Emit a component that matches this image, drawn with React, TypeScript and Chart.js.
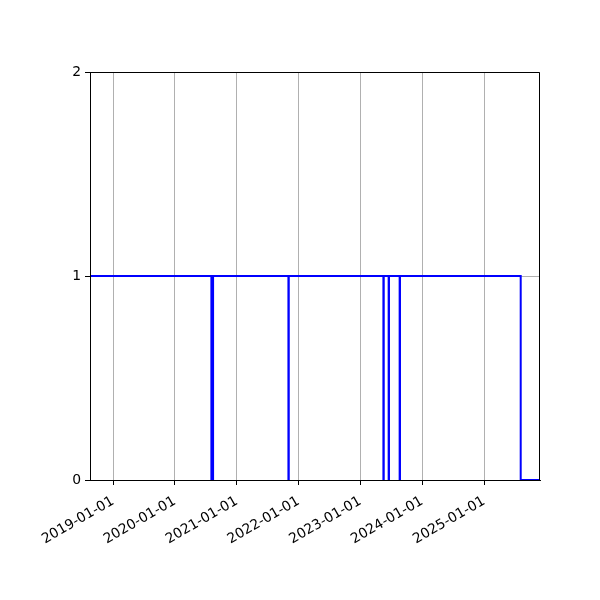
import React, { useEffect, useRef } from 'react';
import { Chart, registerables } from 'chart.js';

Chart.register(...registerables);

// step points: the value holds from each date until the next one
const stepDates = [
    '2018-08-18', '2020-08-04', '2020-08-14', '2021-11-02', '2021-11-04',
    '2023-05-17', '2023-05-19', '2023-06-17', '2023-06-19', '2023-08-21',
    '2023-08-23', '2025-08-05', '2025-11-27',
];
const stepValues = [1, 0, 1, 0, 1, 0, 1, 0, 1, 0, 1, 0, 0];

const xMin = '2018-08-18';
const xMax = '2025-11-27';
const tickYears = [2019, 2020, 2021, 2022, 2023, 2024, 2025];
const yTicks = [0, 1, 2];

const toMs = (d: string) => Date.parse(d + 'T00:00:00Z');
const fmtDate = (ms: number) => new Date(ms).toISOString().slice(0, 10);

// matplotlib-like box around the plot area
const frame = {
    id: 'frame',
    afterDatasetsDraw(chart: any) {
        const { ctx, chartArea } = chart;
        ctx.save();
        ctx.strokeStyle = '#000';
        ctx.lineWidth = 1;
        ctx.beginPath();
        ctx.moveTo(chartArea.left + 0.5, chartArea.bottom);
        ctx.lineTo(chartArea.left + 0.5, chartArea.top + 0.5);
        ctx.lineTo(chartArea.right - 0.5, chartArea.top + 0.5);
        ctx.lineTo(chartArea.right - 0.5, chartArea.bottom);
        ctx.stroke();
        ctx.restore();
    },
};

const StepChart: React.FC = () => {
    const canvasRef = useRef<HTMLCanvasElement | null>(null);
    const chartRef = useRef<Chart | null>(null);

    useEffect(() => {
        const canvas = canvasRef.current;
        if (!canvas) return;
        const existing = Chart.getChart(canvas);
        if (existing) existing.destroy();

        const font = { family: 'DejaVu Sans', size: 13.9 };

        chartRef.current = new Chart(canvas, {
            type: 'line',
            data: {
                datasets: [
                    {
                        data: stepDates.map((d, i) => ({ x: toMs(d), y: stepValues[i] })),
                        borderColor: '#0000ff',
                        borderWidth: 2,
                        pointRadius: 0,
                        stepped: true,
                        fill: false,
                        clip: 0,
                    },
                ],
            },
            options: {
                animation: false,
                responsive: false,
                maintainAspectRatio: false,
                layout: { padding: { left: 0, right: 60, top: 72, bottom: 0 } },
                plugins: { legend: { display: false }, tooltip: { enabled: false } },
                scales: {
                    x: {
                        type: 'linear',
                        min: toMs(xMin),
                        max: toMs(xMax),
                        afterBuildTicks: (scale: any) => {
                            scale.ticks = tickYears.map((y) => ({ value: Date.UTC(y, 0, 1) }));
                        },
                        afterFit: (scale: any) => { scale.height = 120; },
                        ticks: {
                            callback: (v: any) => fmtDate(Number(v)),
                            maxRotation: 30,
                            minRotation: 30,
                            color: '#000',
                            font,
                            padding: 8,
                            autoSkip: false,
                        },
                        grid: { color: '#b0b0b0', lineWidth: 1, tickColor: '#000', tickLength: 5 },
                        border: { color: '#000', width: 1 },
                    },
                    y: {
                        min: 0,
                        max: 2,
                        afterBuildTicks: (scale: any) => {
                            scale.ticks = yTicks.map((v) => ({ value: v }));
                        },
                        afterFit: (scale: any) => { scale.width = 90; },
                        ticks: { color: '#000', font, padding: 4 },
                        grid: { color: '#b0b0b0', lineWidth: 1, tickColor: '#000', tickLength: 5 },
                        border: { color: '#000', width: 1 },
                    },
                },
            },
            plugins: [frame],
        });

        return () => {
            if (chartRef.current) {
                chartRef.current.destroy();
                chartRef.current = null;
            }
        };
    }, []);

    return (
        <div style={{ position: 'absolute', left: 0, top: 0, width: 600, height: 600, background: '#fff' }}>
            <canvas ref={canvasRef} width={600} height={600} style={{ width: 600, height: 600 }} />
        </div>
    );
};

export default function App() {
    return <StepChart />;
}
